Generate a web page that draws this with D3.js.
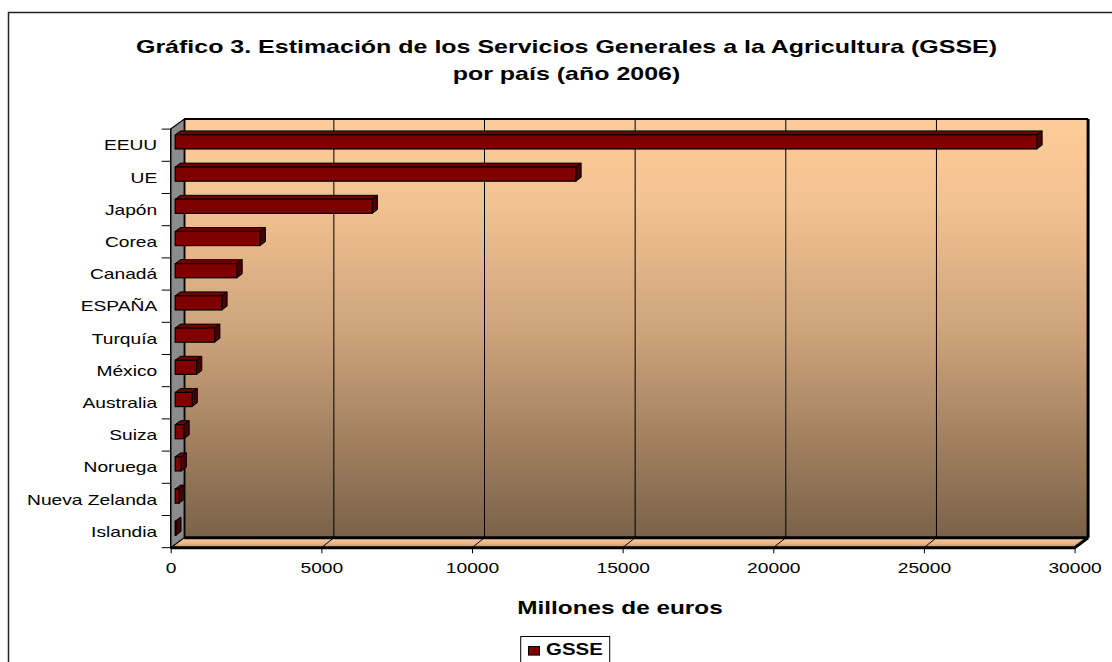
<!DOCTYPE html>
<html><head><meta charset="utf-8">
<script src="https://cdn.jsdelivr.net/npm/d3@7"></script>
<style>
body{margin:0;background:#fff;}
svg{display:block;font-family:"Liberation Sans",Arial,Helvetica,sans-serif;}
</style>
</head><body>
<svg id="c" width="1112" height="662"></svg>
<script>
// ---- data ----
const categories = ["EEUU","UE","Japón","Corea","Canadá","ESPAÑA","Turquía","México","Australia","Suiza","Noruega","Nueva Zelanda","Islandia"];
const values = [28600,13300,6540,2820,2050,1550,1310,710,560,290,200,130,20];
const xTicks = [0,5000,10000,15000,20000,25000,30000];
const titleLines = ["Gráfico 3. Estimación de los Servicios Generales a la Agricultura (GSSE)","por país (año 2006)"];
const xAxisTitle = "Millones de euros";
const seriesName = "GSSE";

// ---- layout ----
const SX = 1.28;              // horizontal stretch of the original picture's text
const DX = 13.5, DY = -10;    // 3D depth offset (front -> back)
const svg = d3.select("#c");
const x = d3.scaleLinear().domain([0,30000]).range([170.7,1074.6]);
const y = d3.scaleBand().domain(categories).range([129.1,547.7]).padding(0);
const yTop = y.range()[0], yBot = y.range()[1];
const x0 = x.range()[0], x1 = x.range()[1];

const defs = svg.append("defs");
const gw = defs.append("linearGradient").attr("id","wall").attr("x1",0).attr("y1",0).attr("x2",0).attr("y2",1);
[[0,"#fecc99"],[0.2,"#f2c290"],[0.5,"#cfa47c"],[0.8,"#9c7c5c"],[1,"#7a6249"]].forEach(s=>gw.append("stop").attr("offset",s[0]).attr("stop-color",s[1]));
const gf = defs.append("linearGradient").attr("id","floor").attr("x1",0).attr("y1",0).attr("x2",0).attr("y2",1);
[[0,"#fad0a4"],[0.6,"#e8b488"],[1,"#b88c68"]].forEach(s=>gf.append("stop").attr("offset",s[0]).attr("stop-color",s[1]));

function txt(g, px, py, s, size, weight, anchor, sx){
  return g.append("text").attr("transform",`translate(${px},${py}) scale(${sx||SX},1)`)
    .attr("font-size",size).attr("font-weight",weight||"normal")
    .attr("text-anchor",anchor||"middle").attr("fill","#000").text(s);
}

// chart border
svg.append("rect").attr("x",8.5).attr("y",12.5).attr("width",1120).attr("height",670)
  .attr("fill","#fff").attr("stroke","#222").attr("stroke-width",1.5);

// title
txt(svg,566.5,53.3,titleLines[0],19,"bold","middle",1.315);
txt(svg,566.5,80,titleLines[1],19,"bold","middle",1.315);

// back wall
const bw = {x:x0+DX, y:yTop+DY, w:x1-x0, h:yBot-yTop};
svg.append("rect").attr("x",bw.x).attr("y",bw.y).attr("width",bw.w).attr("height",bw.h)
  .attr("fill","url(#wall)");
svg.append("g").selectAll("line").data(xTicks.slice(1,-1)).join("line")
  .attr("x1",d=>x(d)+DX-1).attr("x2",d=>x(d)+DX-1).attr("y1",bw.y).attr("y2",bw.y+bw.h)
  .attr("stroke","#000").attr("stroke-width",1);
svg.append("line").attr("x1",bw.x).attr("x2",bw.x+bw.w).attr("y1",bw.y).attr("y2",bw.y).attr("stroke","#000").attr("stroke-width",2);
svg.append("line").attr("x1",bw.x+bw.w).attr("x2",bw.x+bw.w).attr("y1",bw.y).attr("y2",bw.y+bw.h).attr("stroke","#000").attr("stroke-width",3);
svg.append("line").attr("x1",bw.x).attr("x2",bw.x).attr("y1",bw.y).attr("y2",bw.y+bw.h).attr("stroke","#000").attr("stroke-width",2.5);

// floor
svg.append("path").attr("d",`M${x0},${yBot}L${x1},${yBot}L${x1+DX},${yBot+DY}L${x0+DX},${yBot+DY}Z`)
  .attr("fill","url(#floor)");
svg.append("g").selectAll("line").data(xTicks.slice(1,-1)).join("line")
  .attr("x1",d=>x(d)).attr("y1",yBot).attr("x2",d=>x(d)+DX-1).attr("y2",yBot+DY)
  .attr("stroke","#000").attr("stroke-width",1);
svg.append("line").attr("x1",x0+DX).attr("x2",x1+DX).attr("y1",yBot+DY).attr("y2",yBot+DY).attr("stroke","#000").attr("stroke-width",3);
svg.append("path").attr("d",`M${x0},${yBot}L${x1},${yBot}L${x1+DX},${yBot+DY}`)
  .attr("fill","none").attr("stroke","#000").attr("stroke-width",3).attr("stroke-linejoin","miter");

// left wall
svg.append("path").attr("d",`M${x0},${yTop}L${x0+DX},${yTop+DY}L${x0+DX},${yBot+DY}L${x0},${yBot}Z`)
  .attr("fill","#8c8c8c").attr("stroke","#000").attr("stroke-width",1.2);

// bars
const t0 = 0.33, t1 = 0.72;
const bh = y.bandwidth()*0.44;
const bars = svg.append("g").selectAll("g").data(categories.map((c,i)=>({c,v:values[i]}))).join("g");
bars.each(function(d){
  const g = d3.select(this);
  const fx = x(0)+t0*DX, fy = y(d.c)+y.bandwidth()/2+t0*DY - bh/2;
  const w = x(d.v)-x(0);
  const ox = (t1-t0)*DX, oy = (t1-t0)*DY;
  g.append("path").attr("d",`M${fx},${fy}L${fx+w},${fy}L${fx+w+ox},${fy+oy}L${fx+ox},${fy+oy}Z`)
    .attr("fill","#700000").attr("stroke","#000").attr("stroke-width",1).attr("stroke-linejoin","round");
  g.append("path").attr("d",`M${fx+w},${fy}L${fx+w+ox},${fy+oy}L${fx+w+ox},${fy+oy+bh}L${fx+w},${fy+bh}Z`)
    .attr("fill","#4a0000").attr("stroke","#000").attr("stroke-width",1).attr("stroke-linejoin","round");
  g.append("rect").attr("x",fx).attr("y",fy).attr("width",w).attr("height",bh)
    .attr("fill","#800000").attr("stroke","#000").attr("stroke-width",1.2);
});

// left axis (category labels)
const ay = svg.append("g").attr("transform",`translate(${x0},0)`).call(d3.axisLeft(y).tickSize(0));
ay.select(".domain").remove();
ay.selectAll("text").attr("x",-13.5/SX).attr("dy","0.34em").attr("font-size",15)
  .attr("font-family",null).attr("fill","#000").attr("transform",`scale(${SX},1)`);
svg.append("line").attr("x1",x0).attr("x2",x0).attr("y1",yTop).attr("y2",yBot).attr("stroke","#000").attr("stroke-width",1.2);
svg.append("g").selectAll("line").data(categories.map(c=>y(c)).concat([yBot])).join("line")
  .attr("x1",x0-9).attr("x2",x0).attr("y1",d=>d).attr("y2",d=>d).attr("stroke","#000").attr("stroke-width",1);

// bottom axis
const ax = svg.append("g").attr("transform",`translate(0,${yBot})`)
  .call(d3.axisBottom(x).tickValues(xTicks).tickFormat(d3.format("d")).tickSize(5.6).tickPadding(9));
ax.select(".domain").remove();
ax.selectAll("line").attr("stroke","#000").attr("stroke-width",1);
ax.selectAll("text").attr("font-size",15).attr("font-family",null).attr("fill","#000").attr("transform",`scale(${SX},1)`);

// axis title
txt(svg,620,614.3,xAxisTitle,19,"bold");

// legend
svg.append("rect").attr("x",520.7).attr("y",636.5).attr("width",89).attr("height",40)
  .attr("fill","#fff").attr("stroke","#000").attr("stroke-width",1);
svg.append("rect").attr("x",528.5).attr("y",646.5).attr("width",11).attr("height",8.6)
  .attr("fill","#800000").attr("stroke","#000").attr("stroke-width",1);
txt(svg,546,655.3,seriesName,16,"bold","start");
</script>
</body></html>
